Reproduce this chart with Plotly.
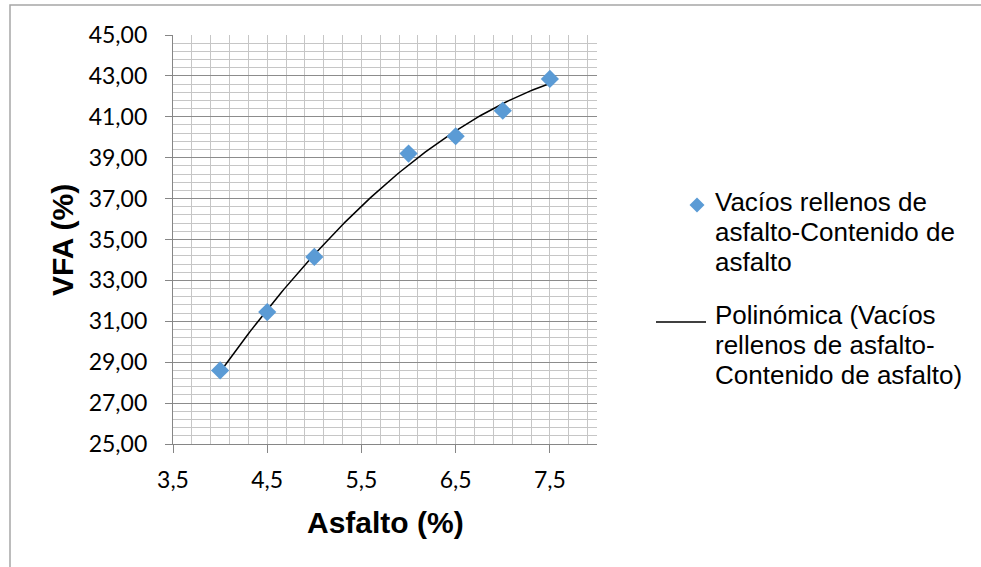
import numpy as np
import plotly.graph_objects as go

# ---- data ----
asfalto = [4.0, 4.5, 5.0, 6.0, 6.5, 7.0, 7.5]
vfa = [28.60, 31.45, 34.15, 39.20, 40.05, 41.30, 42.85]
series_name = "Vacíos rellenos de asfalto-Contenido de asfalto"
trend_name = "Polinómica (Vacíos rellenos de asfalto-Contenido de asfalto)"
legend_lines_1 = ["Vacíos rellenos de", "asfalto-Contenido de", "asfalto"]
legend_lines_2 = ["Polinómica (Vacíos", "rellenos de asfalto-", "Contenido de asfalto)"]
x_title = "Asfalto (%)"
y_title = "VFA (%)"

W, H = 981, 567
L, R, T, B = 173, 597, 35, 444


def px(x):
    return (x - L) / (R - L)


def py(y):
    return (B - y) / (B - T)


# polynomial (order 2) trendline, as Excel does
coef = np.polyfit(asfalto, vfa, 2)
xt = np.linspace(min(asfalto), max(asfalto), 120)
yt = np.polyval(coef, xt)

BLUE = "#5B9BD5"

fig = go.Figure()
fig.add_trace(go.Scatter(x=xt, y=yt, mode="lines", name=trend_name,
                         line=dict(color="black", width=1.5), showlegend=False))
fig.add_trace(go.Scatter(x=asfalto, y=vfa, mode="markers", name=series_name,
                         marker=dict(symbol="diamond", size=14, color=BLUE, line=dict(width=0)),
                         showlegend=False))

ann = []
shapes = []
# outer chart border
shapes.append(dict(type="rect", xref="paper", yref="paper",
                   x0=px(10), x1=px(990), y0=py(575), y1=py(5),
                   line=dict(color="#a6a6a6", width=1.5), layer="below"))
# legend: diamond
cx, cy, hw = 697, 205, 7.5
shapes.append(dict(type="path", xref="paper", yref="paper",
                   path=f"M {px(cx-hw)} {py(cy)} L {px(cx)} {py(cy-hw)} L {px(cx+hw)} {py(cy)} L {px(cx)} {py(cy+hw)} Z",
                   fillcolor=BLUE, line=dict(width=0)))
# legend: line
shapes.append(dict(type="line", xref="paper", yref="paper",
                   x0=px(656), x1=px(706), y0=py(322), y1=py(322),
                   line=dict(color="black", width=1.5)))

lf = dict(family="Arial, Liberation Sans", size=26, color="black")
for i, t in enumerate(legend_lines_1):
    ann.append(dict(text=t, xref="paper", yref="paper", x=px(713), y=py(202 + 30 * i),
                    xanchor="left", yanchor="middle", showarrow=False, font=lf))
for i, t in enumerate(legend_lines_2):
    ann.append(dict(text=t, xref="paper", yref="paper", x=px(713), y=py(315 + 30 * i),
                    xanchor="left", yanchor="middle", showarrow=False, font=lf))

tf = dict(family="Arial, Liberation Sans", size=30, color="black")
ann.append(dict(text=f"<b>{x_title}</b>", xref="paper", yref="paper", x=px(385), y=py(522),
                xanchor="center", yanchor="middle", showarrow=False, font=tf))
ann.append(dict(text=f"<b>{y_title}</b>", xref="paper", yref="paper", x=px(63), y=py(240),
                xanchor="center", yanchor="middle", showarrow=False, font=tf, textangle=-90))

tickfont = dict(family="Lato, Open Sans", size=23, color="black")
fig.update_layout(
    width=W, height=H,
    margin=dict(l=L, r=W - R, t=T, b=H - B),
    paper_bgcolor="white", plot_bgcolor="white",
    separators=",.",
    annotations=ann, shapes=shapes, showlegend=False,
    xaxis=dict(range=[3.5, 8.0], tick0=3.5, dtick=1, tickformat=".1f",
               showgrid=True, gridcolor="#c6c6c6", gridwidth=1,
               minor=dict(dtick=0.2, tick0=3.5, showgrid=True, gridcolor="#c6c6c6", gridwidth=1),
               showline=True, linecolor="#868686", linewidth=1.3,
               ticks="outside", ticklen=8, tickcolor="#868686",
               ticklabelstandoff=7, tickfont=tickfont, zeroline=False, fixedrange=True),
    yaxis=dict(range=[25, 45], tick0=25, dtick=2, tickformat=".2f",
               showgrid=True, gridcolor="#8c8c8c", gridwidth=1,
               minor=dict(dtick=0.4, tick0=25, showgrid=True, gridcolor="#c6c6c6", gridwidth=1),
               showline=True, linecolor="#868686", linewidth=1.3,
               ticks="outside", ticklen=7, tickcolor="#868686",
               ticklabelstandoff=13, tickfont=tickfont, zeroline=False, fixedrange=True),
)

fig.write_html("out.html")
